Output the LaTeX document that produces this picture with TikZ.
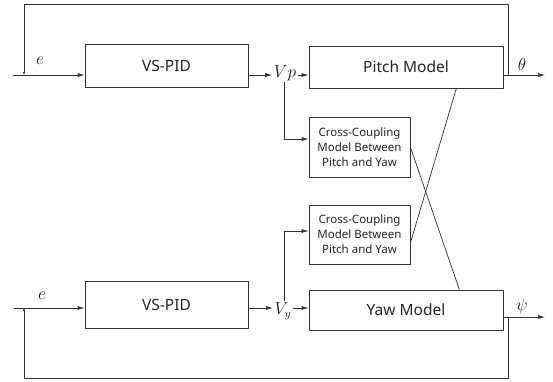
\documentclass[tikz,border=0pt]{standalone}
\usepackage{fontspec}
\setmainfont{Noto Sans}
\usepackage{amsmath}
\usetikzlibrary{arrows.meta,calc,positioning}

\tikzset{
  blk/.style={draw=black!80,line width=0.7pt,inner sep=0pt,text=black!85,font=\fontsize{15.5}{18}\selectfont},
  ccblk/.style={blk,align=center,font=\fontsize{11.5}{15}\selectfont},
  lbl/.style={inner sep=1.5pt,text=black!90,font=\fontsize{17}{19}\selectfont},
  sig/.style={draw=black!80,line width=0.7pt,-{Latex[length=7pt,width=4pt]}},
  fb/.style={draw=black!80,line width=0.7pt,-{Latex[length=3pt,width=2.5pt]}},
  wire/.style={draw=black!80,line width=0.7pt}
}

\begin{document}
\begin{tikzpicture}[x=1pt,y=-1pt,line join=round]
\useasboundingbox (0,0) rectangle (553,381);
% blocks
\node[blk,minimum width=163pt,minimum height=43pt] (pid1) at (166.5,65.5) {VS-PID};
\node[blk,minimum width=163pt,minimum height=47pt] (pid2) at (166.5,304.5) {VS-PID};
\node[blk,minimum width=194pt,minimum height=42pt] (pitch) at (406,67) {Pitch Model};
\node[blk,minimum width=194pt,minimum height=40pt] (yaw) at (406,310) {Yaw Model};
\node[ccblk,minimum width=101pt,minimum height=60pt] (cc1) at (359.5,147) {Cross-Coupling\\Model Between\\Pitch and Yaw};
\node[ccblk,minimum width=101pt,minimum height=59pt] (cc2) at (359.5,234.5) {Cross-Coupling\\Model Between\\Pitch and Yaw};
% signal labels
\node[lbl] (vp) at (285,73) {$Vp$};
\node[lbl] (vy) at (283,311) {$V_y$};
\node[lbl] (th) at (522,64) {$\theta$};
\node[lbl] (ps) at (522,306) {$\psi$};
\node[lbl] (e1) at (40,61) {$e$};
\node[lbl] (e2) at (42,296) {$e$};
% free ends
\coordinate (in1) at (13,75);
\coordinate (in2) at (14,308);
\coordinate (out1) at (545,75);
\coordinate (out2) at (545,317);
\coordinate (br1) at (508,75);
\coordinate (br2) at (508,317);
\coordinate (sum1) at (24,75);
\coordinate (sum2) at (24,308);
\coordinate (top) at (266,4);
\coordinate (bot) at (266,378);
% pitch loop
\draw[sig] (in1) -- (in1 -| pid1.west);
\draw[sig] (pid1.east |- in1) -- (vp.west |- in1);
\draw[sig] (vp.east |- in1) -- (pitch.west |- in1);
\draw[sig] (pitch.east |- out1) -- (out1);
\draw[fb] (br1) -- (br1 |- top) -- (sum1 |- top) -- (sum1);
\draw[sig] (vp.south -| 284,0) |- ($(cc1.west)+(0,-8)$);
% yaw loop
\draw[sig] (in2) -- (in2 -| pid2.west);
\draw[sig] (pid2.east |- in2) -- (vy.west |- in2);
\draw[sig] (vy.east |- in2) -- (yaw.west |- in2);
\draw[sig] (yaw.east |- out2) -- (out2);
\draw[fb] (br2) -- (br2 |- bot) -- (sum2 |- bot) -- (sum2);
\draw[sig] (vy.north -| 284,0) |- ($(cc2.west)+(0,-3.5)$);
% cross coupling
\draw[wire] ($(pitch.south east)+(-47,0)$) -- ($(cc2.east)+(0,8.5)$);
\draw[wire] (cc1.east) -- ($(yaw.north east)+(-44,0)$);
\end{tikzpicture}
\end{document}
